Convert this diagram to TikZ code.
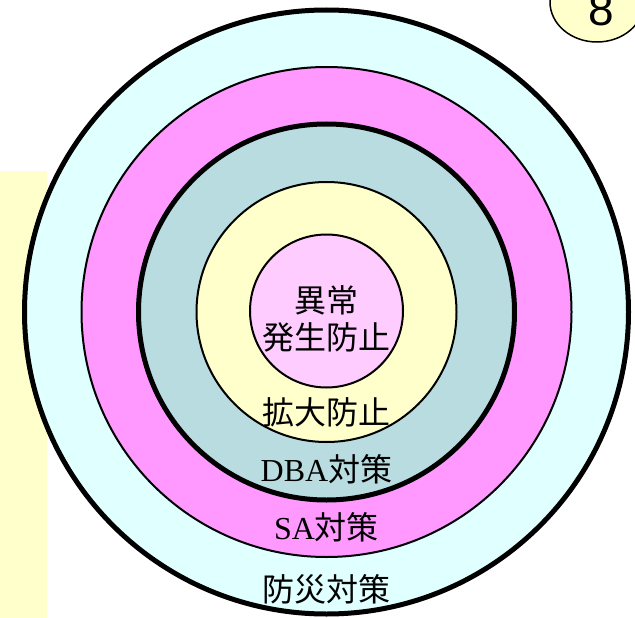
\documentclass[tikz,border=0pt]{standalone}
\usepackage{fontspec}
\setmainfont{Liberation Serif}
\setsansfont{Liberation Sans}
\newfontfamily\jpfont{Noto Sans CJK JP}
\usetikzlibrary{shapes.geometric}
\definecolor{ringcyan}{HTML}{E0FFFF}
\definecolor{ringmagenta}{HTML}{FF99FF}
\definecolor{ringteal}{HTML}{B8DCE0}
\definecolor{ringyellow}{HTML}{FFFFCC}
\definecolor{corepink}{HTML}{FFCCFF}
\begin{document}
\begin{tikzpicture}[x=1pt,y=-1pt,
	ring/.style={circle, draw=black, inner sep=0pt, minimum size=#1},
	lbl/.style={font=\jpfont\fontsize{32}{37}\selectfont, align=center, inner sep=0pt}]
	
	\useasboundingbox (0,0) rectangle (635,618);
	\clip (0,0) rectangle (635,618);
	% band on the left
	\fill[ringyellow] (0,171) rectangle (47,618);
	% rings, outside in
	\node[ring=604pt, fill=ringcyan, line width=5pt] (bousai) at (326.5,312) {};
	\node[ring=490pt, fill=ringmagenta, line width=2pt] (sa) at (326.5,312) {};
	\node[ring=376pt, fill=ringteal, line width=5pt] (dba) at (326.5,312) {};
	\node[ring=260pt, fill=ringyellow, line width=2pt] (kakudai) at (326.5,312) {};
	\node[ring=153pt, fill=corepink, line width=2pt] (ijou) at (326.5,311) {};
	% labels
	\node[lbl] (ijoutxt) at (326.5,319) {異常\\発生防止};
	\node[lbl] (kakudaitxt) at (326.5,412) {拡大防止};
	\node[lbl] (dbatxt) at (326.5,469) {{\rmfamily DBA}対策};
	\node[lbl] (satxt) at (326.5,527) {{\rmfamily SA}対策};
	\node[lbl] (bousaitxt) at (326.5,589) {防災対策};
	% page number
	\node[ellipse, draw=black, fill=ringyellow, line width=1.5pt, inner sep=0pt,
		minimum width=94pt, minimum height=80pt] (badge) at (597,2) {};
	\node[font=\sffamily\fontsize{46}{46}\selectfont, inner sep=0pt] (badgenum) at (601,10) {8};
\end{tikzpicture}
\end{document}
